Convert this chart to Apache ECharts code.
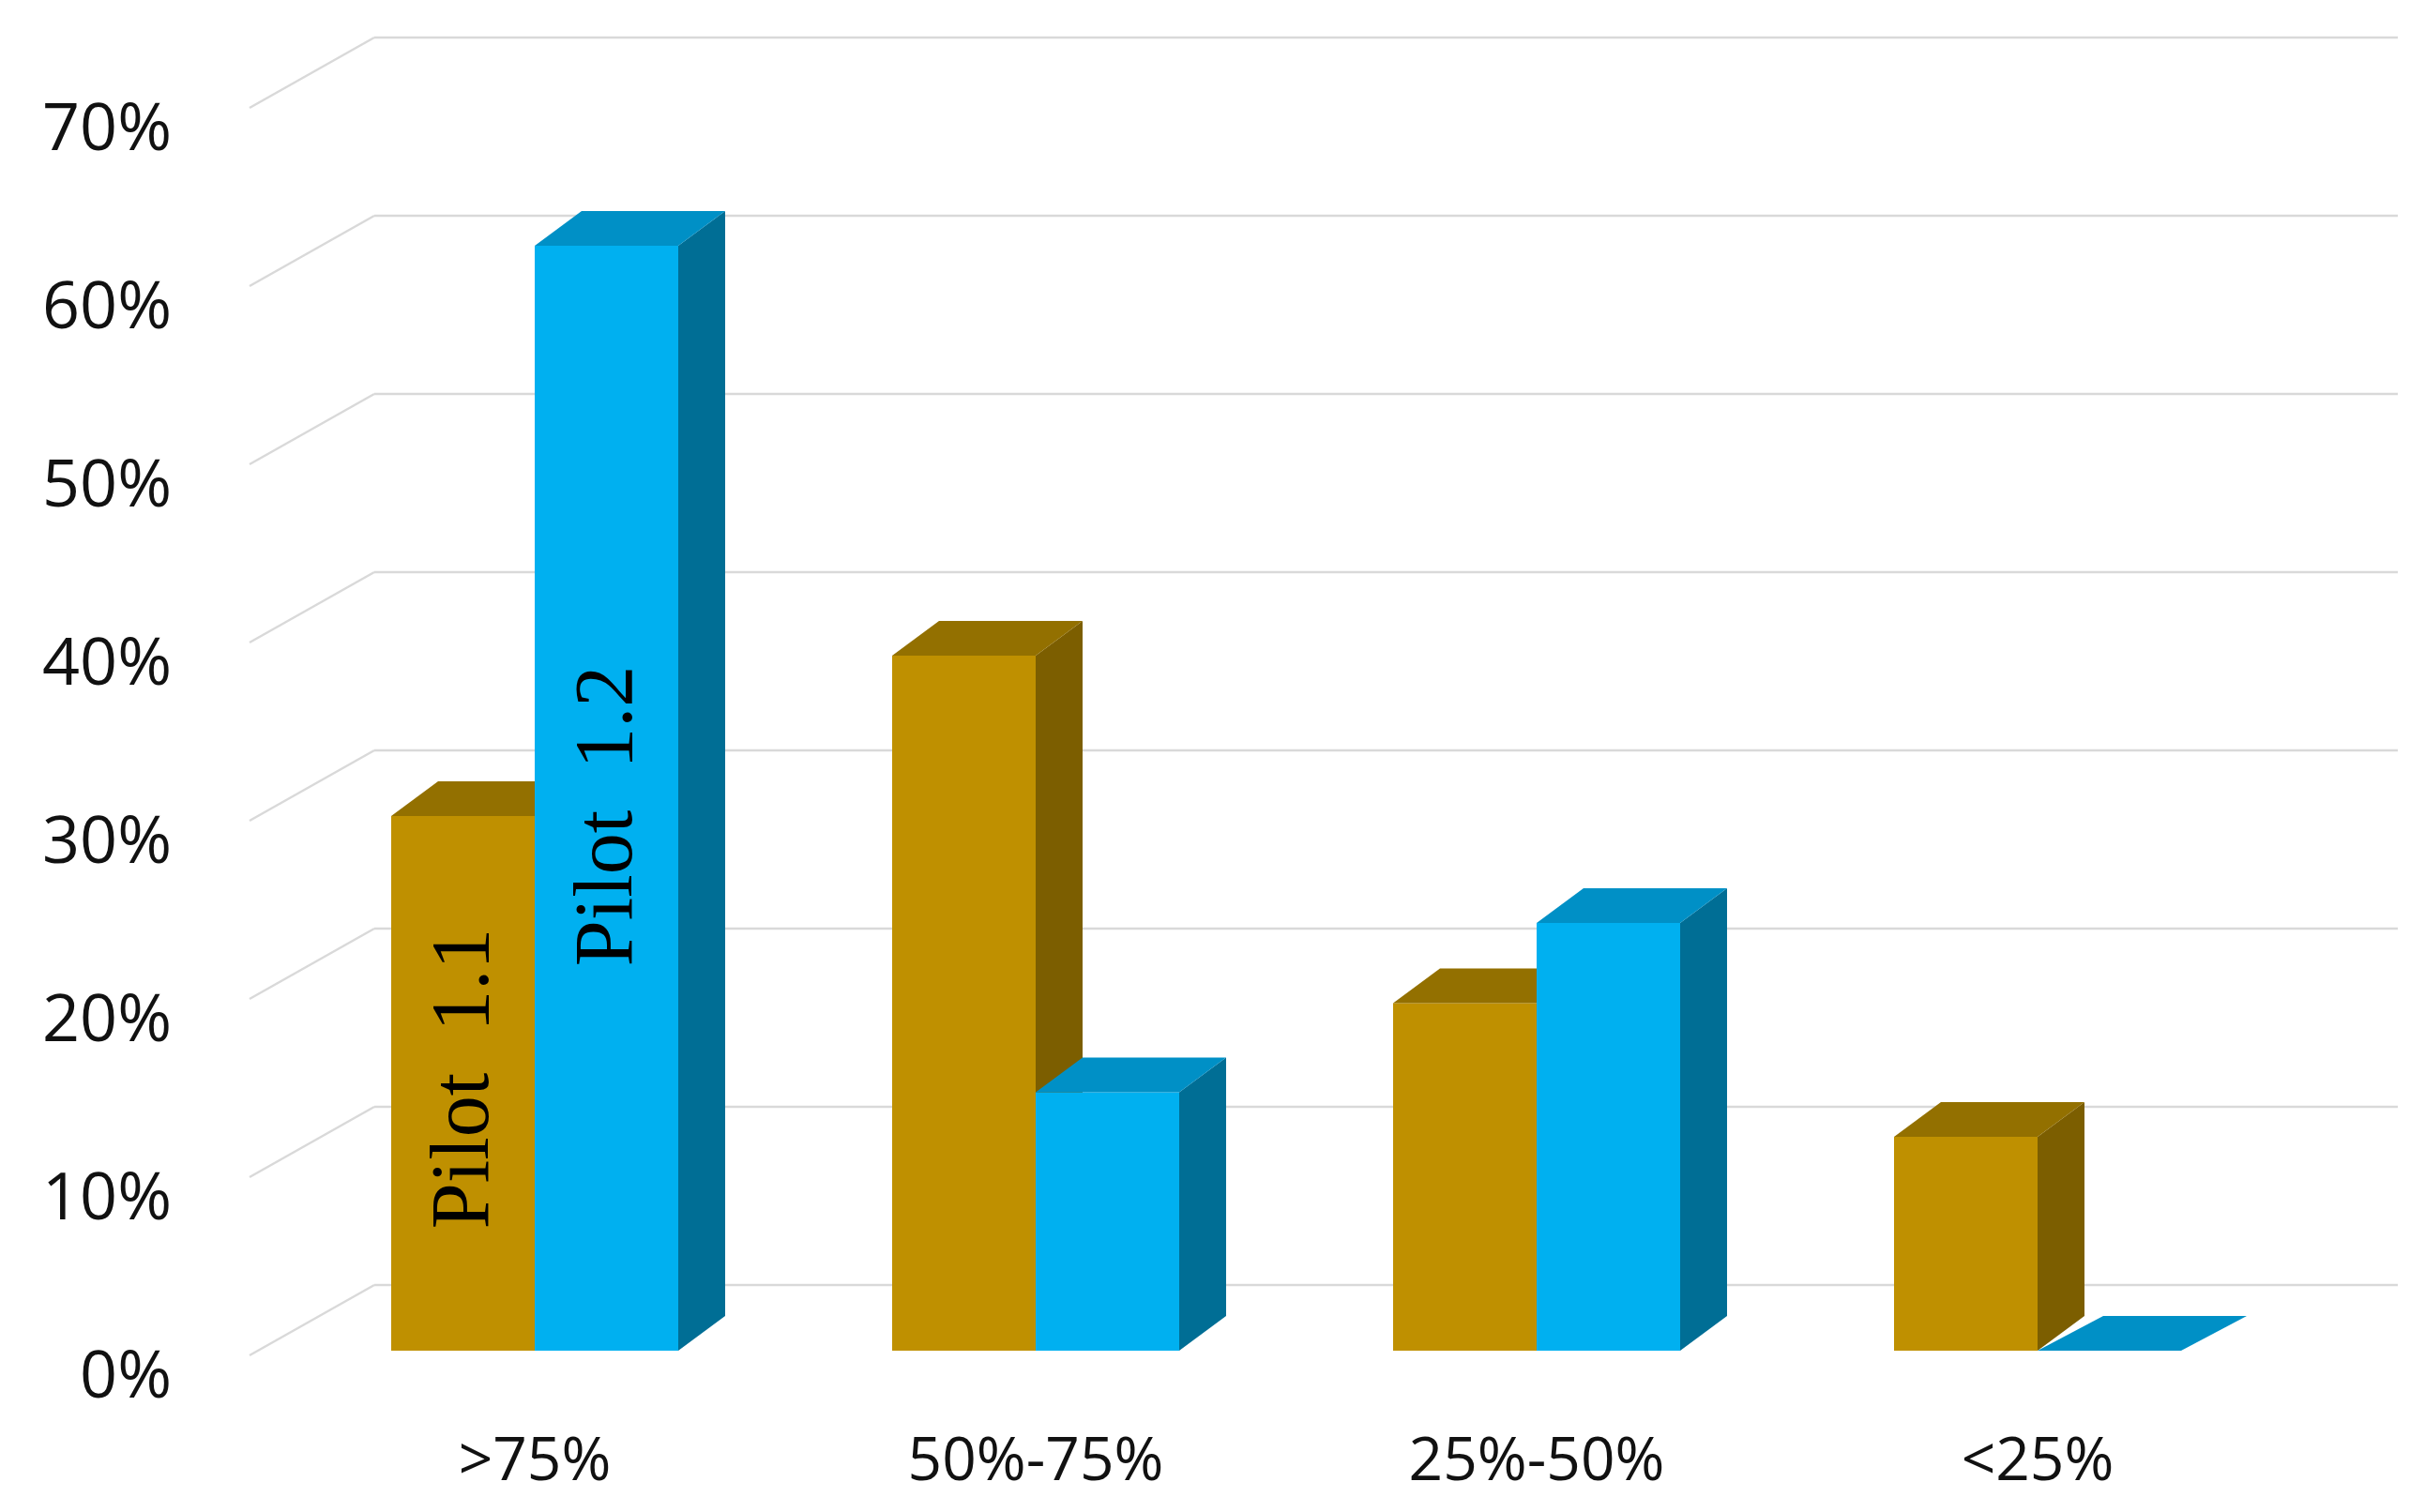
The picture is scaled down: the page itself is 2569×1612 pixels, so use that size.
<!DOCTYPE html>
<html><head><meta charset="utf-8">
<script src="https://cdn.jsdelivr.net/npm/echarts@6/dist/echarts.min.js"></script>
<style>html,body{margin:0;background:#fff}#c{width:2569px;height:1612px}</style>
</head><body><div id="c"></div>
<script>
const categories = ['>75%', '50%-75%', '25%-50%', '<25%'];
const pilot11 = [30, 39, 19.5, 12];
const pilot12 = [62, 14.5, 24, 0];
const yTicks = [0, 10, 20, 30, 40, 50, 60, 70];
const yTickLabels = ['0%', '10%', '20%', '30%', '40%', '50%', '60%', '70%'];

const DX = 50, DY = -37, BW = 153;
function shade(side) {
  return side === 0
    ? {front: '#BF9000', top: '#937000', side: '#7C5E00'}
    : {front: '#00B0F0', top: '#0090C6', side: '#006E95'};
}
function barRender(sideIdx) {
  return function (params, api) {
    const i = api.value(0), v = api.value(1);
    const top = api.coord([i, v]);
    const base = api.coord([i, 0]);
    const x0 = sideIdx === 0 ? top[0] - BW : top[0];
    const x1 = x0 + BW, yT = top[1], yB = base[1];
    const c = shade(sideIdx);
    const children = [];
    if (yB - yT > 0.5) {
      children.push({type: 'rect', shape: {x: x0, y: yT, width: BW, height: yB - yT}, style: {fill: c.front}});
      children.push({type: 'polygon', shape: {points: [[x1, yT], [x1 + DX, yT + DY], [x1 + DX, yB + DY], [x1, yB]]}, style: {fill: c.side}});
      children.push({type: 'polygon', shape: {points: [[x0, yT], [x0 + DX, yT + DY], [x1 + DX, yT + DY], [x1, yT]]}, style: {fill: c.top}});
    } else {
      children.push({type: 'polygon', shape: {points: [[x0, yB], [x0 + DX + 20, yB + DY], [x1 + DX + 20, yB + DY], [x1, yB]]}, style: {fill: c.top}});
    }
    return {type: 'group', children};
  };
}
function gridRender(params, api) {
  const v = api.value(1);
  const y = api.coord([0, v])[1];
  const idx = params.dataIndex;
  const off = -70;
  return {type: 'group', children: [
    {type: 'line', shape: {x1: 266, y1: y + off + 75, x2: 399, y2: y + off}, style: {stroke: '#d9d9d9', lineWidth: 2.5}},
    {type: 'line', shape: {x1: 399, y1: y + off, x2: 2556, y2: y + off}, style: {stroke: '#d9d9d9', lineWidth: 2.5}},
    {type: 'text', style: {text: yTickLabels[idx], x: 183, y: y + 30, align: 'right', verticalAlign: 'middle',
      font: '70px "Open Sans", "Liberation Sans", sans-serif', fill: '#111'}}
  ]};
}

const chart = echarts.init(document.getElementById('c'));
chart.setOption({
  animation: false,
  grid: {left: 303, right: 130, top: 110, bottom: 172},
  xAxis: {type: 'category', data: categories, axisLine: {show: false}, axisTick: {show: false},
    axisLabel: {margin: 88, fontSize: 64, color: '#111', fontFamily: '"Open Sans", "Liberation Sans", sans-serif'}},
  yAxis: {type: 'value', min: 0, max: 70, interval: 10, axisLabel: {show: false}, splitLine: {show: false}, axisLine: {show: false}},
  series: [
    {type: 'custom', renderItem: gridRender, data: yTicks.map(t => [0, t]), z: 1, silent: true},
    {type: 'custom', name: 'Pilot 1.1', renderItem: barRender(0), data: pilot11.map((v, i) => [i, v]), z: 2},
    {type: 'custom', name: 'Pilot 1.2', renderItem: barRender(1), data: pilot12.map((v, i) => [i, v]), z: 3}
  ],
  graphic: [
    {type: 'text', x: 497, y: 1150, rotation: Math.PI / 2, z: 10,
      style: {text: 'Pilot  1.1', align: 'center', verticalAlign: 'middle', font: '88px "Liberation Serif", serif', fill: '#000'}},
    {type: 'text', x: 650, y: 870, rotation: Math.PI / 2, z: 10,
      style: {text: 'Pilot  1.2', align: 'center', verticalAlign: 'middle', font: '88px "Liberation Serif", serif', fill: '#000'}}
  ]
});
</script></body></html>
